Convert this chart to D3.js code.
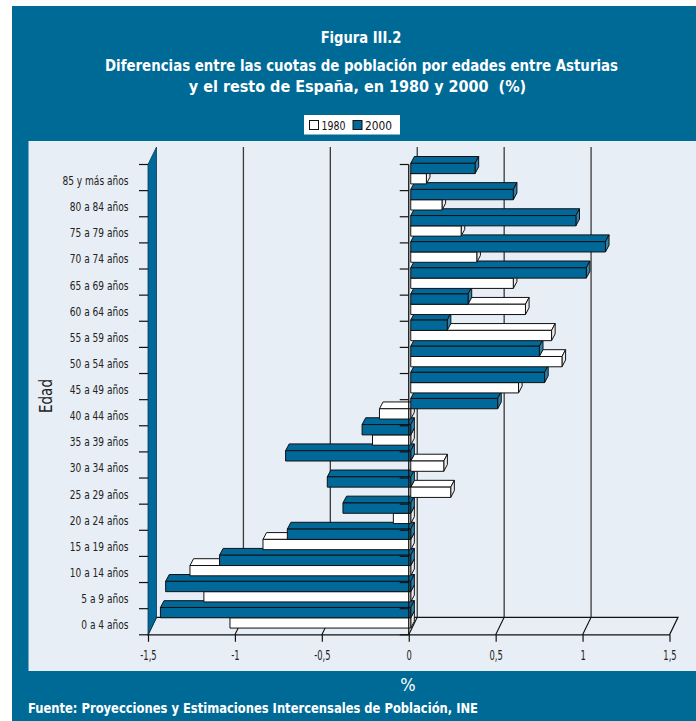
<!DOCTYPE html>
<html><head><meta charset="utf-8">
<script src="https://cdn.jsdelivr.net/npm/d3@7"></script>
<style>html,body{margin:0;padding:0;background:#fff;} svg{display:block}</style>
</head><body>
<svg id="chart" width="696" height="721"></svg>
<script>
// ---------- DATA ----------
const categories = ["0 a 4 años","5 a 9 años","10 a 14 años","15 a 19 años","20 a 24 años","25 a 29 años","30 a 34 años","35 a 39 años","40 a 44 años","45 a 49 años","50 a 54 años","55 a 59 años","60 a 64 años","65 a 69 años","70 a 74 años","75 a 79 años","80 a 84 años","85 y más años"];
const values1980 = [-1.04,-1.19,-1.27,-0.85,-0.10,0.23,0.19,-0.22,-0.18,0.62,0.87,0.81,0.66,0.59,0.38,0.29,0.18,0.09];
const values2000 = [-1.44,-1.41,-1.10,-0.71,-0.39,-0.48,-0.72,-0.28,0.50,0.77,0.74,0.21,0.33,1.01,1.12,0.95,0.59,0.37];
const seriesNames = ["1980","2000"];
const xTickValues = [-1.5,-1,-0.5,0,0.5,1,1.5];
const gridValues = [-1,-0.5,0,0.5,1];
const titleText = "Figura III.2";
const subtitleLines = ["Diferencias entre las cuotas de población por edades entre Asturias","y el resto de España, en 1980 y 2000  (%)"];
const xAxisTitle = "%";
const yAxisTitle = "Edad";
const sourceText = "Fuente: Proyecciones y Estimaciones Intercensales de Población, INE";

// ---------- STYLE ----------
const FONT = '"Liberation Sans Narrow","DejaVu Sans Condensed","Arial Narrow","Roboto Condensed",sans-serif';
const BLUE = "#006a96", BAR = "#00699a", BARSIDE = "#2a84b0", PANEL = "#e8eef5", INK = "#111", TXT = "#222";

const svg = d3.select("#chart");
function fit(sel, target){
  const w = sel.node().getComputedTextLength();
  if (Math.abs(w - target) / target > 0.03) sel.attr("textLength", target).attr("lengthAdjust", "spacingAndGlyphs");
}
// condense a group of texts by the ratio that makes one sample text reach its target width
function fitGroup(sel, sampleText, target){
  let k = 1;
  sel.each(function(){ if (this.textContent === sampleText) k = target / this.getComputedTextLength(); });
  if (Math.abs(k - 1) < 0.03) return;
  sel.each(function(){
    const w = this.getComputedTextLength();
    d3.select(this).attr("textLength", w * k).attr("lengthAdjust", "spacingAndGlyphs");
  });
}

svg.append("rect").attr("x",12).attr("y",6).attr("width",684).attr("height",715).attr("fill",BLUE);
svg.append("rect").attr("x",28.5).attr("y",141).attr("width",667.5).attr("height",530).attr("fill",PANEL);

const x = d3.scaleLinear().domain([-1.5,1.5]).range([148,669.5]);
const depth = {dx:8.5, dy:-17.5};
const y = d3.scaleBand().domain(categories.slice().reverse()).range([164.5,634.8]);
const topY = y.range()[0], floorY = y.range()[1];
const [xmin, xmax] = x.domain();

// back wall gridlines
svg.append("g").selectAll("line").data(gridValues).join("line")
  .attr("x1", d => x(d) + depth.dx).attr("x2", d => x(d) + depth.dx)
  .attr("y1", topY + depth.dy).attr("y2", floorY + depth.dy)
  .attr("stroke", "#3a3a3a").attr("stroke-width", 1.3);

// floor
svg.append("path")
  .attr("d", `M${x(xmin)},${floorY}L${x(xmax)},${floorY}L${x(xmax)+depth.dx},${floorY+depth.dy}L${x(xmin)+depth.dx},${floorY+depth.dy}Z`)
  .attr("fill", PANEL).attr("stroke", INK).attr("stroke-width", 1.2);
svg.append("g").selectAll("line").data(gridValues).join("line")
  .attr("x1", d => x(d)).attr("y1", floorY)
  .attr("x2", d => x(d) + depth.dx).attr("y2", floorY + depth.dy)
  .attr("stroke", INK).attr("stroke-width", 1.1);

// left wall
svg.append("path")
  .attr("d", `M${x(xmin)},${floorY}L${x(xmin)},${topY}L${x(xmin)+depth.dx},${topY+depth.dy}L${x(xmin)+depth.dx},${floorY+depth.dy}Z`)
  .attr("fill", BAR).attr("stroke", "#0b3550").attr("stroke-width", 0.8);

// bars
const bar = {dx:2, dy:-4.5, pad:3.3, h:10.3, ddx:3.6, ddy:-6.8};
const color = d3.scaleOrdinal().domain(seriesNames).range(["#ffffff", BAR]);
const sideColor = d3.scaleOrdinal().domain(seriesNames).range(["#ececec", BARSIDE]);
const items = [];
categories.forEach((c, i) => {
  items.push({c, s:"1980", v: values1980[i]});
  items.push({c, s:"2000", v: values2000[i]});
});
const gBars = svg.append("g").attr("stroke", INK).attr("stroke-width", 1).attr("stroke-linejoin", "round");
items.forEach(d => {
  const top = y(d.c) + bar.dy + bar.pad + (d.s === "1980" ? bar.h : 0);
  const x1 = x(Math.min(0, d.v)) + bar.dx, x2 = x(Math.max(0, d.v)) + bar.dx;
  const g = gBars.append("g");
  g.append("path").attr("d", `M${x1},${top}L${x2},${top}L${x2+bar.ddx},${top+bar.ddy}L${x1+bar.ddx},${top+bar.ddy}Z`).attr("fill", color(d.s));
  g.append("path").attr("d", `M${x2},${top}L${x2+bar.ddx},${top+bar.ddy}L${x2+bar.ddx},${top+bar.ddy+bar.h}L${x2},${top+bar.h}Z`).attr("fill", sideColor(d.s));
  g.append("rect").attr("x", x1).attr("y", top).attr("width", x2 - x1).attr("height", bar.h).attr("fill", color(d.s));
});

// category boundary ticks
const boundaries = categories.map(c => y(c)).concat([floorY]);
svg.append("line").attr("x1", x(0)).attr("x2", x(0)).attr("y1", topY).attr("y2", floorY).attr("stroke", INK).attr("stroke-width", 1.3);
svg.append("g").selectAll("line").data(boundaries).join("line")
  .attr("x1", x(0) - 9).attr("x2", x(0)).attr("y1", d => d).attr("y2", d => d).attr("stroke", INK).attr("stroke-width", 1.2);
svg.append("g").selectAll("line").data(boundaries).join("line")
  .attr("x1", x(xmin) - 9).attr("x2", x(xmin)).attr("y1", d => d).attr("y2", d => d).attr("stroke", INK).attr("stroke-width", 1.2);

// x axis
const gx = svg.append("g").attr("transform", `translate(0,${floorY})`)
  .call(d3.axisBottom(x).tickValues(xTickValues).tickSize(7).tickPadding(9).tickFormat(d => String(d).replace(".", ",")));
gx.select(".domain").remove();
gx.selectAll(".tick line").attr("stroke", INK).attr("stroke-width", 1.2);
gx.selectAll(".tick text").attr("font-family", FONT).attr("font-size", 13.5).attr("fill", TXT);
fitGroup(gx.selectAll(".tick text"), "-1,5", 16.3);

// category labels
const gy = svg.append("g").attr("transform", `translate(${x(xmin)},0)`)
  .call(d3.axisLeft(y).tickSize(0).tickPadding(19.5));
gy.select(".domain").remove();
gy.selectAll(".tick text").attr("font-family", FONT).attr("font-size", 12.5).attr("fill", TXT).attr("dy", "0.6em");
fitGroup(gy.selectAll(".tick text"), "80 a 84 años", 58.7);

// axis titles
const ey = svg.append("text").attr("transform", "translate(52,396) rotate(-90)").attr("text-anchor", "middle")
  .attr("font-family", FONT).attr("font-size", 17).attr("fill", TXT).text(yAxisTitle);
fit(ey, 34);
svg.append("text").attr("x", 408).attr("y", 691).attr("text-anchor", "middle")
  .attr("font-family", FONT).attr("font-size", 18).attr("fill", "#fff").text(xAxisTitle);

// titles
const t0 = svg.append("text").attr("x", 361).attr("y", 43.3).attr("text-anchor", "middle")
  .attr("font-family", FONT).attr("font-weight", "bold").attr("font-size", 16.5).attr("fill", "#fff").text(titleText);
fit(t0, 80.7);
const subW = [513, 331], subX = [361.5, 357.5], subY = [70.7, 92.3];
subtitleLines.forEach((s, i) => {
  const t = svg.append("text").attr("x", subX[i]).attr("y", subY[i]).attr("text-anchor", "middle")
    .attr("font-family", FONT).attr("font-weight", "bold").attr("font-size", 16).attr("fill", "#fff")
    .attr("xml:space", "preserve").style("white-space", "pre").text(s);
  fit(t, subW[i]);
});
const ft = svg.append("text").attr("x", 28).attr("y", 712.5)
  .attr("font-family", FONT).attr("font-weight", "bold").attr("font-size", 14).attr("fill", "#fff").text(sourceText);
fit(ft, 450);

// legend
svg.append("rect").attr("x", 304).attr("y", 115).attr("width", 96).attr("height", 19.5).attr("fill", "#fff");
const legX = [309.5, 353];
seriesNames.forEach((s, i) => {
  svg.append("rect").attr("x", legX[i]).attr("y", 120.5).attr("width", 9).attr("height", 9)
    .attr("fill", color(s)).attr("stroke", INK).attr("stroke-width", 1);
  const lt = svg.append("text").attr("x", legX[i] + 12).attr("y", 130).attr("font-family", FONT).attr("font-size", 13).attr("fill", "#111").text(s);
  fit(lt, s === "1980" ? 24 : 27);
});
</script>
</body></html>
